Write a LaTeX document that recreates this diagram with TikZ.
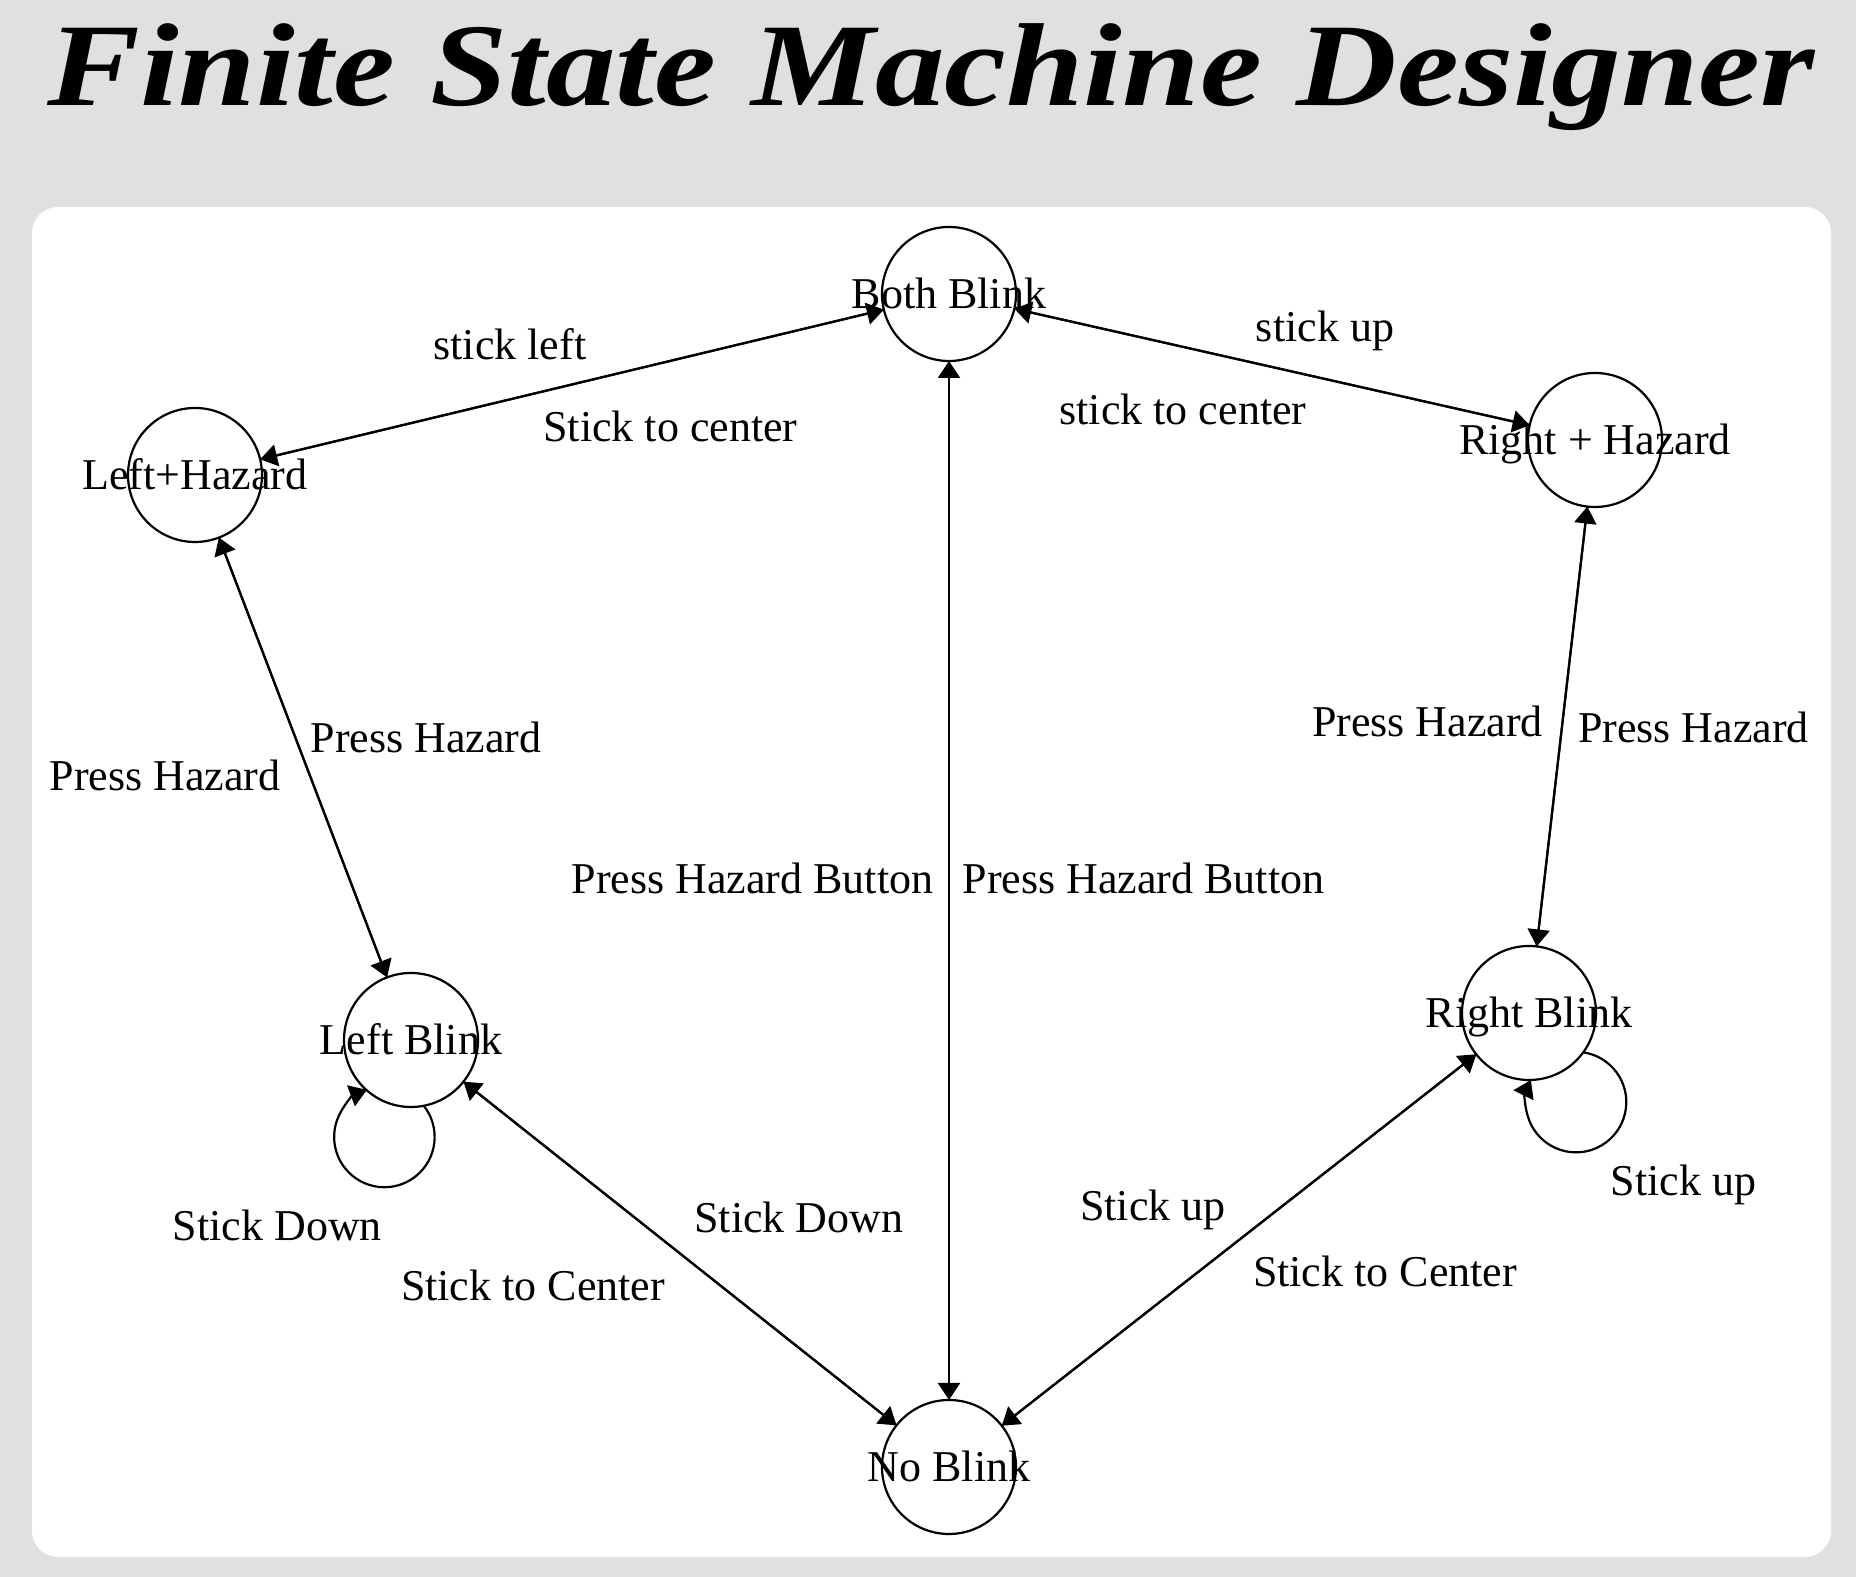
\documentclass[tikz,border=0pt]{standalone}
\usepackage{fontspec}
\usepackage{graphicx}
\setmainfont{Liberation Serif}
\usepackage{tikz}
\usetikzlibrary{arrows.meta,positioning,calc}
\definecolor{pagegray}{HTML}{E0E0E0}

\begin{document}
\begin{tikzpicture}[x=1pt,y=1pt,
    state/.style={circle,draw,line width=2.2pt,minimum size=134pt,inner sep=0pt,outer sep=0pt},
    every label/.style={font=\fontsize{44}{53}\selectfont,text height=29pt,text depth=0pt,inner sep=0pt},
    trans/.style={line width=2.2pt,-{Triangle[length=17pt,width=22pt]}},
    lbl/.style={midway,anchor=base,inner sep=0pt,font=\fontsize{44}{53}\selectfont}]
  \useasboundingbox (0,0) rectangle (1856,1577);
  \fill[pagegray] (0,0) rectangle (1856,1577);
  \fill[white,rounded corners=26pt] (32,20) rectangle (1831,1370);
  \node[anchor=base,inner sep=0pt,font=\fontsize{118}{130}\selectfont\bfseries\itshape] (title)
    at (931,1471) {\scalebox{1.18}[1]{Finite State Machine Designer}};

  % states
  \node[state,label=center:Both Blink] (both) at (949,1283) {};
  \node[state,label=center:Left+Hazard] (lhaz) at (195,1102) {};
  \node[state,label=center:Right + Hazard] (rhaz) at (1595,1137) {};
  \node[state,label=center:Left Blink] (lblink) at (411,537) {};
  \node[state,label=center:Right Blink] (rblink) at (1529,564) {};
  \node[state,label=center:No Blink] (noblink) at (949,110) {};

  % top
  \draw[trans] (both) -- (lhaz) node[lbl,shift={(-62,24.5)}] {stick left};
  \draw[trans] (lhaz) -- (both) node[lbl,shift={(98.5,-57.5)}] {Stick to center};
  \draw[trans] (both) -- (rhaz) node[lbl,shift={(53,25)}] {stick up};
  \draw[trans] (rhaz) -- (both) node[lbl,shift={(-89,-58)}] {stick to center};

  % hazard button
  \draw[trans] (lhaz) -- (lblink) node[lbl,shift={(-138,-33.5)}] {Press Hazard};
  \draw[trans] (lblink) -- (lhaz) node[lbl,shift={(123,4.5)}] {Press Hazard};
  \draw[trans] (rhaz) -- (rblink) node[lbl,shift={(-134.5,-10.5)}] {Press Hazard};
  \draw[trans] (rblink) -- (rhaz) node[lbl,shift={(131.5,-16.5)}] {Press Hazard};
  \draw[trans] (both) -- (noblink) node[lbl,shift={(-196.5,-13.5)}] {Press Hazard Button};
  \draw[trans] (noblink) -- (both) node[lbl,shift={(194.5,-13.5)}] {Press Hazard Button};

  % bottom
  \draw[trans] (noblink) -- (lblink) node[lbl,shift={(119,20.5)}] {Stick Down};
  \draw[trans] (lblink) -- (noblink) node[lbl,shift={(-147,-47.5)}] {Stick to Center};
  \draw[trans] (noblink) -- (rblink) node[lbl,shift={(-86,19)}] {Stick up};
  \draw[trans] (rblink) -- (noblink) node[lbl,shift={(146,-47)}] {Stick to Center};

  % self loops
  \draw[trans] (lblink.-79.5) arc[start angle=38.4,end angle=-249.6,radius=50.25pt]
    node[lbl,shift={(-93.5,-55.6)}] {Stick Down};
  \draw[trans] (rblink.-36.2) arc[start angle=81.8,end angle=-206.1,radius=50.25pt]
    node[lbl,shift={(84,-48.6)}] {Stick up};
\end{tikzpicture}
\end{document}
